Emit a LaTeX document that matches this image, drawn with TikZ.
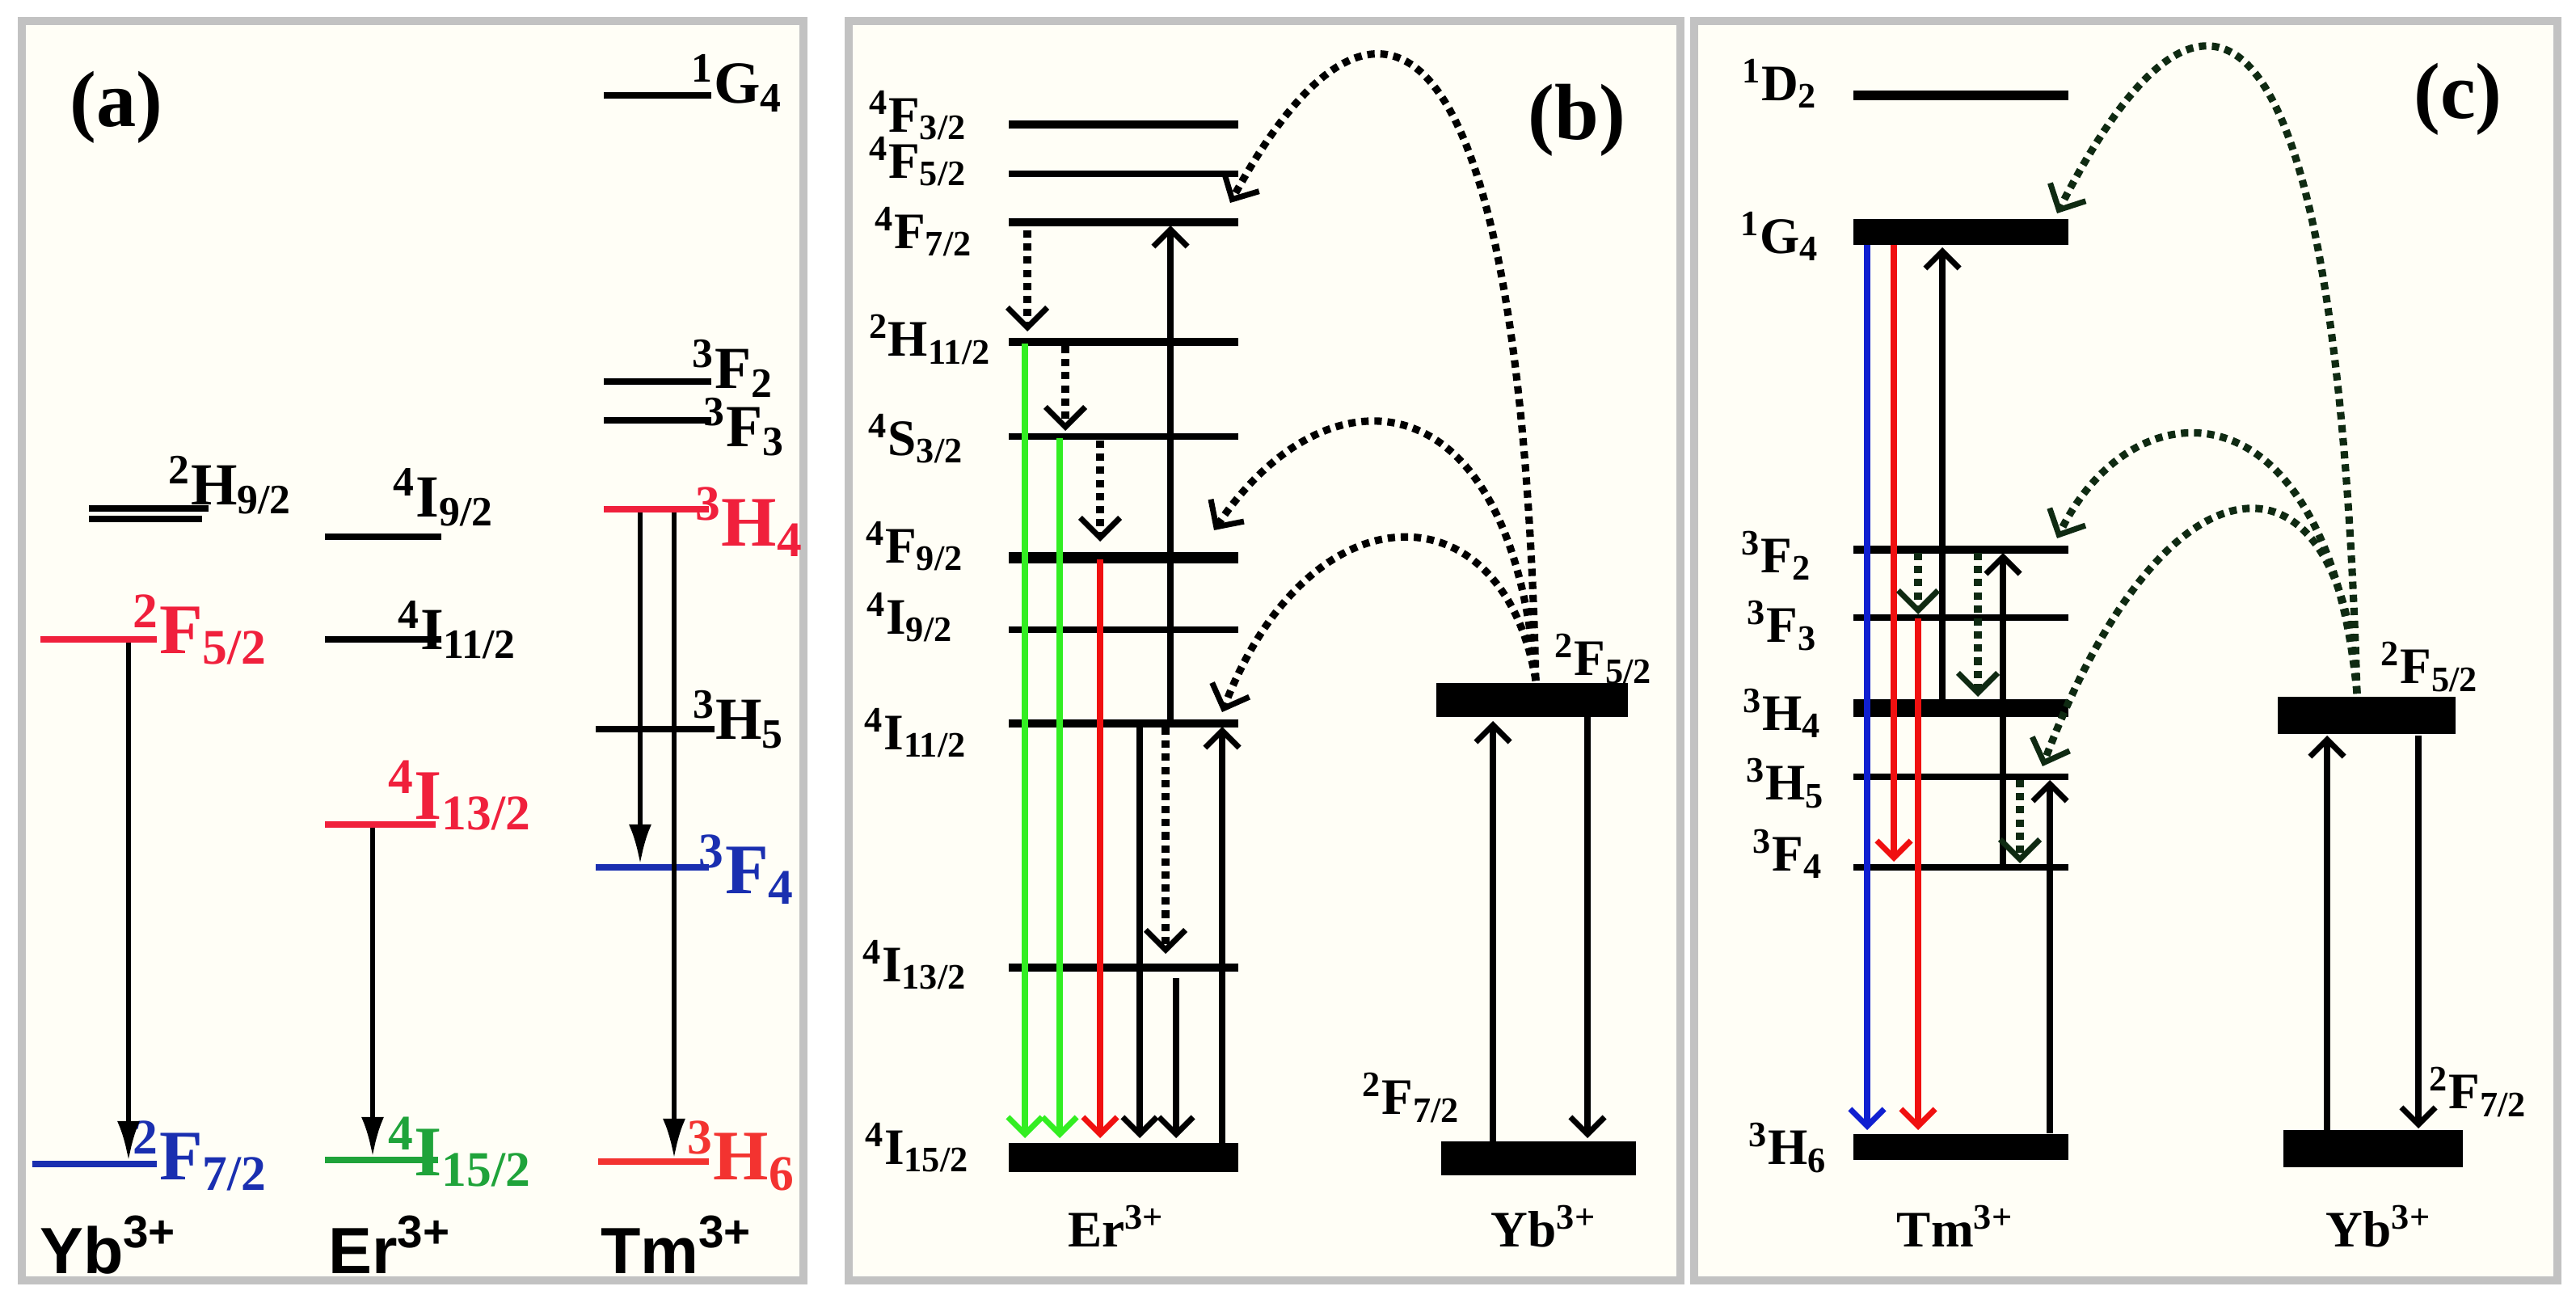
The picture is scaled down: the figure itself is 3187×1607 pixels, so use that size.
\documentclass[tikz,border=0pt]{standalone}
\usepackage{fontspec}
\setmainfont{Liberation Serif}
\newfontfamily\sansbf{Liberation Sans}
\usetikzlibrary{arrows.meta}
\newcommand{\tm}[3]{\textsuperscript{#1}#2\textsubscript{#3}}
\definecolor{bgcream}{HTML}{FFFEF6}
\definecolor{framegray}{HTML}{C2C2C2}
\definecolor{lvred}{HTML}{F0203C}
\definecolor{lvblue}{HTML}{1A2FB0}
\definecolor{lvgreen}{HTML}{1FA33A}
\definecolor{emgreen}{HTML}{33EE22}
\definecolor{emred}{HTML}{F01010}
\definecolor{embblue}{HTML}{1020D0}
\definecolor{dkgreen}{HTML}{0F2A12}
\tikzset{
  frame/.style={draw=framegray, line width=2.6pt, fill=bgcream},
  lev/.style={line width=2pt},
  bar/.style={line width=#1},
  txt/.style={font=\bfseries\fontsize{18}{18}\selectfont, inner sep=0pt},
  big/.style={font=\bfseries\fontsize{25}{25}\selectfont, inner sep=0pt},
  ion/.style={font=\sansbf\bfseries\fontsize{23}{23}\selectfont, inner sep=0pt},
  tag/.style={font=\bfseries\fontsize{28}{28}\selectfont, inner sep=0pt},
  dn/.style={line width=1.8pt, -{Latex[length=14pt,width=8pt]}},
  em/.style={line width=2.1pt, -{Straight Barb[length=6pt,width=12pt,line width=2pt]}},
  dots/.style={line width=2.6pt, dotted, -{Straight Barb[length=7pt,width=14pt,line width=2pt]}}
}
\begin{document}
\begin{tikzpicture}[x=0.01cm, y=-0.01cm]
\useasboundingbox (0,0) rectangle (3187,1607);
% panel frames
\draw[frame] (27,26) rectangle (994,1584);
\draw[frame] (1050,26) rectangle (2079,1584);
\draw[frame] (2096,26) rectangle (3164,1584);

% ---------- panel (a)
\node[tag] (taga) at (144,133) {(a)};
% Yb
\draw[lev] (110,629) -- (258,629);
\draw[lev] (110,642) -- (250,642);
\node[txt, font=\bfseries\fontsize{21}{21}\selectfont] (ybh) at (285,600) {\tm{2}{H}{9/2}};
\draw[lev, lvred] (50,791) -- (194,791);
\node[big, lvred] (ybf5) at (248,779) {\tm{2}{F}{5/2}};
\draw[lev, lvblue] (40,1440) -- (194,1440);
\node[big, lvblue] (ybf7) at (248,1430) {\tm{2}{F}{7/2}};
\draw[dn] (159,795) -- (159,1436);
\node[ion] (yba) at (134,1540) {Yb\textsuperscript{3+}};
% Er
\draw[lev] (402,664) -- (546,664);
\node[txt, font=\bfseries\fontsize{21}{21}\selectfont] (eri9) at (549,615) {\tm{4}{I}{9/2}};
\draw[lev] (402,791) -- (546,791);
\node[txt, font=\bfseries\fontsize{21}{21}\selectfont] (eri11) at (566,779) {\tm{4}{I}{11/2}};
\draw[lev, lvred] (402,1020) -- (539,1020);
\node[big, lvred] (eri13) at (569,984) {\tm{4}{I}{13/2}};
\draw[lev, lvgreen] (402,1435) -- (542,1435);
\node[big, lvgreen] (eri15) at (569,1425) {\tm{4}{I}{15/2}};
\draw[dn] (461,1024) -- (461,1431);
\node[ion] (era) at (482,1540) {Er\textsuperscript{3+}};
% Tm
\draw[lev] (747,118) -- (880,118);
\node[txt, font=\bfseries\fontsize{21}{21}\selectfont] (tmg) at (912,103) {\tm{1}{G}{4}};
\draw[lev] (747,472) -- (880,472);
\node[txt, font=\bfseries\fontsize{21}{21}\selectfont] (tmf2) at (907,456) {\tm{3}{F}{2}};
\draw[lev] (747,520) -- (880,520);
\node[txt, font=\bfseries\fontsize{21}{21}\selectfont] (tmf3) at (921,528) {\tm{3}{F}{3}};
\draw[lev, lvred] (747,630) -- (877,630);
\node[big, lvred] (tmh4) at (927,646) {\tm{3}{H}{4}};
\draw[lev] (737,902) -- (884,902);
\node[txt, font=\bfseries\fontsize{21}{21}\selectfont] (tmh5) at (914,890) {\tm{3}{H}{5}};
\draw[lev, lvblue] (737,1073) -- (877,1073);
\node[big, lvblue] (tmf4) at (924,1076) {\tm{3}{F}{4}};
\draw[lev, lvred!80!orange] (740,1437) -- (877,1437);
\node[big, lvred!80!orange] (tmh6) at (917,1430) {\tm{3}{H}{6}};
\draw[dn] (792,634) -- (792,1069);
\draw[dn] (834,634) -- (834,1433);
\node[ion] (tma) at (837,1540) {Tm\textsuperscript{3+}};

% ---------- panel (b)
\node[tag] (tagb) at (1951,149) {(b)};
\foreach \y/\w in {154/2.8pt, 215/2.4pt, 275/3pt, 423/3pt, 540/2.4pt, 690/4pt, 779/2.2pt, 895/2.6pt, 1197/2.6pt}
  \draw[bar=\w] (1248,\y) -- (1532,\y);
\draw[bar=10pt] (1248,1432) -- (1532,1432);
\node[txt, anchor=east] (b1) at (1197,143) {\tm{4}{F}{3/2}};
\node[txt, anchor=east] (b2) at (1197,200) {\tm{4}{F}{5/2}};
\node[txt, anchor=east] (b3) at (1204,287) {\tm{4}{F}{7/2}};
\node[txt, anchor=east] (b4) at (1227,420) {\tm{2}{H}{11/2}};
\node[txt, anchor=east] (b5) at (1193,543) {\tm{4}{S}{3/2}};
\node[txt, anchor=east] (b6) at (1193,676) {\tm{4}{F}{9/2}};
\node[txt, anchor=east] (b7) at (1180,764) {\tm{4}{I}{9/2}};
\node[txt, anchor=east] (b8) at (1197,907) {\tm{4}{I}{11/2}};
\node[txt, anchor=east] (b9) at (1197,1194) {\tm{4}{I}{13/2}};
\node[txt, anchor=east] (b10) at (1200,1420) {\tm{4}{I}{15/2}};
% emissions and relaxations
\draw[em, emgreen] (1268,425) -- (1268,1408);
\draw[em, emgreen] (1311,542) -- (1311,1408);
\draw[em, emred] (1361,692) -- (1361,1408);
\draw[em] (1410,897) -- (1410,1408);
\draw[em] (1455,1210) -- (1455,1408);
\draw[em] (1448,897) -- (1448,279);
\draw[em] (1512,1420) -- (1512,899);
\draw[dots] (1271,285) -- (1271,410);
\draw[dots] (1318,428) -- (1318,533);
\draw[dots] (1361,545) -- (1361,670);
\draw[dots] (1442,900) -- (1442,1180);
% Yb levels
\draw[bar=12pt] (1777,866) -- (2014,866);
\draw[bar=12pt] (1783,1433) -- (2024,1433);
\node[txt] (bybf5) at (1984,815) {\tm{2}{F}{5/2}};
\node[txt] (bybf7) at (1746,1358) {\tm{2}{F}{7/2}};
\draw[em] (1847,1414) -- (1847,892);
\draw[em] (1964,887) -- (1964,1408);
\coordinate (ybsrc) at (1900,842);
\draw[dots] (ybsrc) .. controls (1880,-40) and (1690,-60) .. (1522,251);
\draw[dots] (ybsrc) .. controls (1870,460) and (1640,450) .. (1502,656);
\draw[dots] (ybsrc) .. controls (1860,600) and (1620,600) .. (1512,881);
\node[txt] (ber) at (1381,1517) {Er\textsuperscript{3+}};
\node[txt] (byb) at (1910,1517) {Yb\textsuperscript{3+}};

% ---------- panel (c)
\node[tag] (tagc) at (3041,123) {(c)};
\draw[bar=3.6pt] (2293,118) -- (2559,118);
\draw[bar=9pt] (2293,287) -- (2559,287);
\draw[bar=2.6pt] (2293,680) -- (2559,680);
\draw[bar=2.2pt] (2293,764) -- (2559,764);
\draw[bar=6pt] (2293,876) -- (2559,876);
\draw[bar=2.2pt] (2293,961) -- (2559,961);
\draw[bar=2.2pt] (2293,1073) -- (2559,1073);
\draw[bar=9pt] (2293,1419) -- (2559,1419);
\node[txt] (c1) at (2202,103) {\tm{1}{D}{2}};
\node[txt] (c2) at (2202,292) {\tm{1}{G}{4}};
\node[txt] (c3) at (2198,687) {\tm{3}{F}{2}};
\node[txt] (c4) at (2205,774) {\tm{3}{F}{3}};
\node[txt] (c5) at (2205,882) {\tm{3}{H}{4}};
\node[txt] (c6) at (2209,969) {\tm{3}{H}{5}};
\node[txt] (c7) at (2212,1056) {\tm{3}{F}{4}};
\node[txt] (c8) at (2212,1420) {\tm{3}{H}{6}};
\draw[em, embblue] (2310,303) -- (2310,1398);
\draw[em, emred] (2343,303) -- (2343,1066);
\draw[em, emred] (2373,765) -- (2373,1398);
\draw[em] (2403,876) -- (2403,306);
\draw[em] (2478,1073) -- (2478,684);
\draw[em] (2536,1402) -- (2536,965);
\draw[dots, dkgreen] (2373,684) -- (2373,760);
\draw[dots, dkgreen] (2447,684) -- (2447,862);
\draw[dots, dkgreen] (2499,965) -- (2499,1068);
% Yb levels
\draw[bar=13pt] (2818,885) -- (3038,885);
\draw[bar=13pt] (2825,1421) -- (3047,1421);
\node[txt] (cybf5) at (3006,825) {\tm{2}{F}{5/2}};
\node[txt] (cybf7) at (3066,1351) {\tm{2}{F}{7/2}};
\draw[em] (2879,1402) -- (2879,910);
\draw[em] (2992,910) -- (2992,1396);
\coordinate (ybsrcc) at (2916,858);
\draw[dots, dkgreen] (ybsrcc) .. controls (2890,-60) and (2720,-80) .. (2545,264);
\draw[dots, dkgreen] (ybsrcc) .. controls (2880,470) and (2640,470) .. (2545,666);
\draw[dots, dkgreen] (ybsrcc) .. controls (2900,540) and (2680,540) .. (2527,948);
\node[txt] (ctm) at (2419,1517) {Tm\textsuperscript{3+}};
\node[txt] (cyb) at (2943,1517) {Yb\textsuperscript{3+}};
\end{tikzpicture}
\end{document}
